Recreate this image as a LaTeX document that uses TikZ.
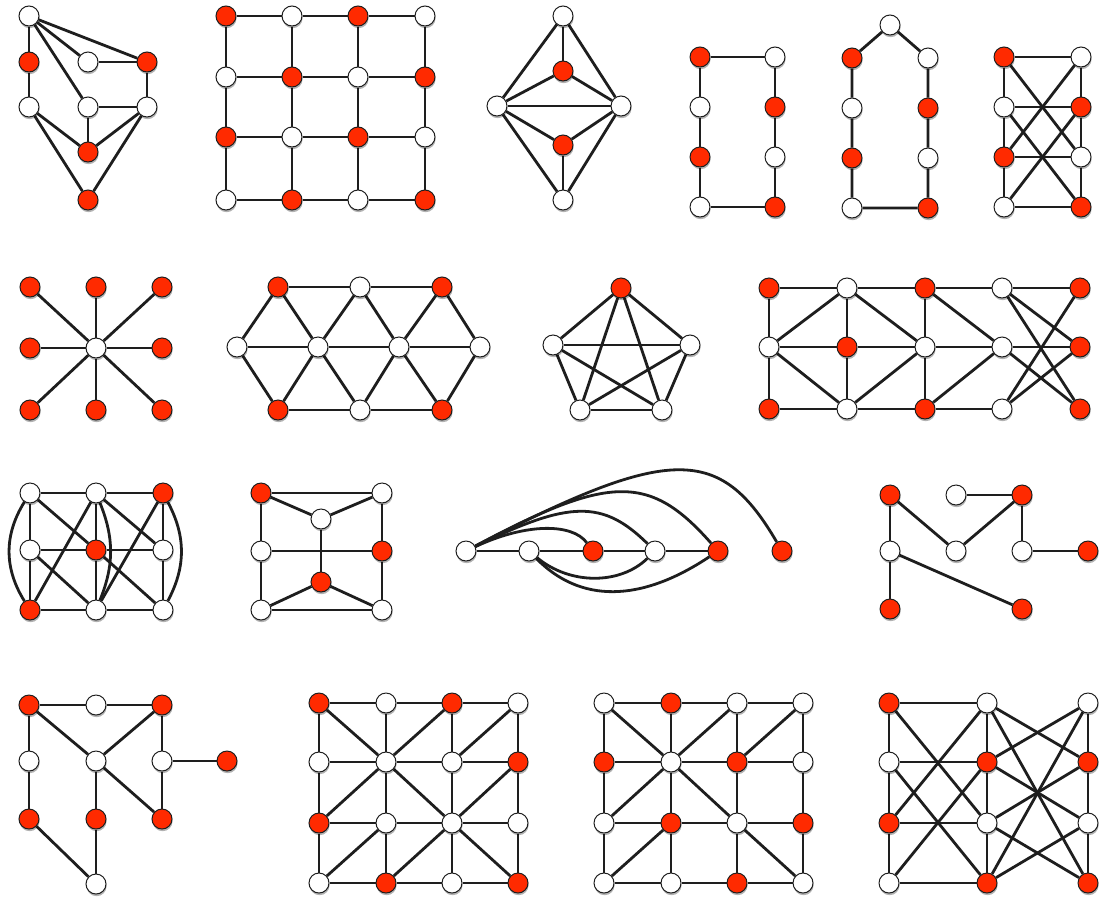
\documentclass[tikz,border=0pt]{standalone}
\usetikzlibrary{shadows, backgrounds}
\definecolor{Dark}{HTML}{1E1E1E}
\definecolor{Vred}{HTML}{FF2A00}
\tikzset{
    whitenode/.style={circle, draw=Dark, line width=1pt, fill=white, minimum size=20pt, inner sep=0pt,
        drop shadow={shadow xshift=0.6pt, shadow yshift=-2.2pt, opacity=0.3, fill=black}},
    rednode/.style={whitenode, fill=Vred},
    link/.style={line width=2.8pt, color=Dark},
}
\begin{document}
\begin{tikzpicture}[x=1pt, y=-1pt]
    \useasboundingbox (0,0) rectangle (1102,900);

    % Riga 1 - grafo irregolare
    \foreach \n/\x/\y/\s in {a/29/16/whitenode, b/29/62/rednode, c/88/62/whitenode, d/147/62/rednode,
        e/29/107/whitenode, f/88/107/whitenode, g/147/107/whitenode, h/88/152/rednode, i/88/200/rednode}
        \node[\s] (g1\n) at (\x,\y) {};
    \begin{scope}[on background layer]
        \foreach \u/\v in {a/b, a/c, a/d, a/f, b/e, c/d, d/g, f/g, f/h, e/h, e/i, g/h, g/i}
            \draw[link] (g1\u) -- (g1\v);
    \end{scope}

    % Griglia 4x4
    \foreach \n/\x/\y/\s in {a1/226/16/rednode, b1/292/16/whitenode, c1/358/16/rednode, d1/425/16/whitenode,
        a2/226/77/whitenode, b2/292/77/rednode, c2/358/77/whitenode, d2/425/77/rednode,
        a3/226/137/rednode, b3/292/137/whitenode, c3/358/137/rednode, d3/425/137/whitenode,
        a4/226/200/whitenode, b4/292/200/rednode, c4/358/200/whitenode, d4/425/200/rednode}
        \node[\s] (g2\n) at (\x,\y) {};
    \begin{scope}[on background layer]
        \foreach \r in {1,...,4} \draw[link] (g2a\r) -- (g2b\r) -- (g2c\r) -- (g2d\r);
        \foreach \c in {a,b,c,d} \draw[link] (g2\c1) -- (g2\c2) -- (g2\c3) -- (g2\c4);
    \end{scope}

    % Rombo
    \foreach \n/\x/\y/\s in {t/563/16/whitenode, u/563/71/rednode, l/497/106/whitenode, r/621/106/whitenode,
        v/563/145/rednode, b/563/200/whitenode}
        \node[\s] (g3\n) at (\x,\y) {};
    \begin{scope}[on background layer]
        \foreach \u/\v in {t/u, t/l, t/r, u/l, u/r, l/r, l/v, r/v, l/b, r/b, v/b}
            \draw[link] (g3\u) -- (g3\v);
    \end{scope}

    % Cicli
    \foreach \n/\x/\y/\s in {a1/700/57/rednode, a2/700/107/whitenode, a3/700/157/rednode, a4/700/207/whitenode,
        b1/775/57/whitenode, b2/775/107/rednode, b3/775/157/whitenode, b4/775/207/rednode}
        \node[\s] (g4\n) at (\x,\y) {};
    \begin{scope}[on background layer]
        \draw[link] (g4a1) -- (g4b1) -- (g4b2) -- (g4b3) -- (g4b4) -- (g4a4) -- (g4a3) -- (g4a2) -- (g4a1);
    \end{scope}

    \foreach \n/\x/\y/\s in {t/890/25/whitenode, a1/852/58/rednode, a2/852/108/whitenode, a3/852/158/rednode,
        a4/852/208/whitenode, b1/928/58/whitenode, b2/928/108/rednode, b3/928/158/whitenode, b4/928/208/rednode}
        \node[\s] (g5\n) at (\x,\y) {};
    \begin{scope}[on background layer]
        \draw[link] (g5t) -- (g5b1) -- (g5b2) -- (g5b3) -- (g5b4) -- (g5a4) -- (g5a3) -- (g5a2) -- (g5a1) -- (g5t);
    \end{scope}

    % Scala con incroci
    \foreach \n/\x/\y/\s in {a1/1004/57/rednode, a2/1004/107/whitenode, a3/1004/157/rednode, a4/1004/207/whitenode,
        b1/1081/57/whitenode, b2/1081/107/rednode, b3/1081/157/whitenode, b4/1081/207/rednode}
        \node[\s] (g6\n) at (\x,\y) {};
    \begin{scope}[on background layer]
        \foreach \r in {1,...,4} \draw[link] (g6a\r) -- (g6b\r);
        \foreach \c in {a,b} \draw[link] (g6\c1) -- (g6\c2) -- (g6\c3) -- (g6\c4);
        \foreach \u/\v in {a1/b3, a2/b4, a3/b1, a4/b2}
            \draw[link] (g6\u) -- (g6\v);
    \end{scope}

    % Riga 2 - stella
    \node[whitenode] (g7c) at (96,348) {};
    \foreach \n/\x/\y in {1/30/287, 2/96/287, 3/162/287, 4/30/348, 5/162/348, 6/30/410, 7/96/410, 8/162/410}
        \node[rednode] (g7n\n) at (\x,\y) {};
    \begin{scope}[on background layer]
        \foreach \n in {1,...,8} \draw[link] (g7c) -- (g7n\n);
    \end{scope}

    % Esagono triangolato
    \foreach \n/\x/\y/\s in {t1/278/287/rednode, t2/360/287/whitenode, t3/442/287/rednode,
        m1/237/347/whitenode, m2/318/347/whitenode, m3/399/347/whitenode, m4/480/347/whitenode,
        b1/278/410/rednode, b2/360/410/whitenode, b3/442/410/rednode}
        \node[\s] (g8\n) at (\x,\y) {};
    \begin{scope}[on background layer]
        \draw[link] (g8t1) -- (g8t2) -- (g8t3);
        \draw[link] (g8m1) -- (g8m2) -- (g8m3) -- (g8m4);
        \draw[link] (g8b1) -- (g8b2) -- (g8b3);
        \foreach \u/\v in {t1/m1, t1/m2, t2/m2, t2/m3, t3/m3, t3/m4, b1/m1, b1/m2, b2/m2, b2/m3, b3/m3, b3/m4}
            \draw[link] (g8\u) -- (g8\v);
    \end{scope}

    % K5
    \foreach \n/\x/\y/\s in {t/621/288/rednode, l/553/345/whitenode, r/690/345/whitenode,
        p/580/410/whitenode, q/662/410/whitenode}
        \node[\s] (g9\n) at (\x,\y) {};
    \begin{scope}[on background layer]
        \foreach \u/\v in {t/l, t/r, t/p, t/q, l/r, l/p, l/q, r/p, r/q, p/q}
            \draw[link] (g9\u) -- (g9\v);
    \end{scope}

    % Striscia 5x3
    \foreach \n/\x/\y/\s in {a1/769/288/rednode, b1/847/288/whitenode, c1/925/288/rednode, d1/1002/288/whitenode, e1/1080/288/rednode,
        a2/769/347/whitenode, b2/847/347/rednode, c2/925/347/whitenode, d2/1002/347/whitenode, e2/1080/347/rednode,
        a3/769/409/rednode, b3/847/409/whitenode, c3/925/409/rednode, d3/1002/409/whitenode, e3/1080/409/rednode}
        \node[\s] (g10\n) at (\x,\y) {};
    \begin{scope}[on background layer]
        \draw[link] (g10a1) -- (g10b1) -- (g10c1) -- (g10d1) -- (g10e1);
        \draw[link] (g10a2) -- (g10b2) -- (g10c2) -- (g10d2) -- (g10e2);
        \draw[link] (g10a3) -- (g10b3) -- (g10c3) -- (g10d3);
        \foreach \c in {a,b,c} \draw[link] (g10\c1) -- (g10\c2) -- (g10\c3);
        \foreach \u/\v in {b1/a2, b1/c2, a2/b3, b3/c2, c1/d2, c3/d2, d1/e2, d1/e3, e1/d3, d2/e3, d3/e2}
            \draw[link] (g10\u) -- (g10\v);
    \end{scope}

    % Riga 3 - griglia 3x3 con archi
    \foreach \n/\x/\y/\s in {a1/30/493/whitenode, b1/96/493/whitenode, c1/163/493/rednode,
        a2/30/550/whitenode, b2/96/550/rednode, c2/163/550/whitenode,
        a3/30/610/rednode, b3/96/610/whitenode, c3/163/610/whitenode}
        \node[\s] (g11\n) at (\x,\y) {};
    \begin{scope}[on background layer]
        \foreach \r in {1,2,3} \draw[link] (g11a\r) -- (g11b\r) -- (g11c\r);
        \foreach \c in {a,b,c} \draw[link] (g11\c1) -- (g11\c2) -- (g11\c3);
        \foreach \u/\v in {a1/b2, b1/a3, b1/c2, c1/b3, a2/b3, b2/c3}
            \draw[link] (g11\u) -- (g11\v);
        \draw[link] (g11a1) to[bend right=32] (g11a3);
        \draw[link] (g11c1) to[bend left=28] (g11c3);
        \draw[link] (g11b1) to[bend left=22] (g11b3);
    \end{scope}

    % Cubo schiacciato
    \foreach \n/\x/\y/\s in {a/261/493/rednode, b/382/493/whitenode, c/321/519/whitenode, d/261/551/whitenode,
        e/382/551/rednode, f/321/582/rednode, g/261/610/whitenode, h/382/610/whitenode}
        \node[\s] (g12\n) at (\x,\y) {};
    \begin{scope}[on background layer]
        \foreach \u/\v in {a/b, a/c, b/c, c/f, d/e, a/d, d/g, b/e, e/h, g/h, g/f, h/f}
            \draw[link] (g12\u) -- (g12\v);
    \end{scope}

    % Cammino con archi
    \foreach \n/\x/\s in {a/466/whitenode, b/529/whitenode, c/593/rednode, d/655/whitenode, e/718/rednode, f/782/rednode}
        \node[\s] (g13\n) at (\x,551) {};
    \begin{scope}[on background layer]
        \draw[link] (g13a) -- (g13b) -- (g13c) -- (g13d) -- (g13e);
        \draw[link] (g13a) .. controls (526,523) and (572,523) .. (g13c);
        \draw[link] (g13a) .. controls (570,500) and (603,500) .. (g13d);
        \draw[link] (g13a) .. controls (610,474) and (650,474) .. (g13e);
        \draw[link] (g13a) .. controls (670,445) and (720,445) .. (g13f);
        \draw[link] (g13b) .. controls (570,585) and (620,585) .. (g13d);
        \draw[link] (g13b) .. controls (580,603) and (640,603) .. (g13e);
    \end{scope}

    % Albero
    \foreach \n/\x/\y/\s in {a/890/495/rednode, b/956/495/whitenode, c/1022/495/rednode, d/890/551/whitenode,
        e/956/551/whitenode, f/1022/551/whitenode, g/1088/551/rednode, h/890/609/rednode, i/1022/609/rednode}
        \node[\s] (g14\n) at (\x,\y) {};
    \begin{scope}[on background layer]
        \foreach \u/\v in {a/d, a/e, b/c, c/e, c/f, f/g, d/h, d/i}
            \draw[link] (g14\u) -- (g14\v);
    \end{scope}

    % Riga 4 - grafo sparso
    \foreach \n/\x/\y/\s in {a/29/705/rednode, b/96/705/whitenode, c/162/705/rednode, d/29/761/whitenode,
        e/96/761/whitenode, f/162/761/whitenode, g/227/761/rednode, h/29/819/rednode, i/96/819/rednode,
        j/162/819/rednode, k/96/884/whitenode}
        \node[\s] (g15\n) at (\x,\y) {};
    \begin{scope}[on background layer]
        \foreach \u/\v in {a/b, b/c, a/d, a/e, c/e, c/f, f/g, d/h, e/i, e/j, f/j, h/k, i/k}
            \draw[link] (g15\u) -- (g15\v);
    \end{scope}

    % Griglie 4x4 con diagonali
    \foreach \n/\x/\y/\s in {a1/319/703/rednode, b1/386/703/whitenode, c1/452/703/rednode, d1/518/703/whitenode,
        a2/319/762/whitenode, b2/386/762/whitenode, c2/452/762/whitenode, d2/518/762/rednode,
        a3/319/823/rednode, b3/386/823/whitenode, c3/452/823/whitenode, d3/518/823/whitenode,
        a4/319/883/whitenode, b4/386/883/rednode, c4/452/883/whitenode, d4/518/883/rednode}
        \node[\s] (g16\n) at (\x,\y) {};
    \begin{scope}[on background layer]
        \foreach \r in {1,...,4} \draw[link] (g16a\r) -- (g16b\r) -- (g16c\r) -- (g16d\r);
        \foreach \c in {a,b,c,d} \draw[link] (g16\c1) -- (g16\c2) -- (g16\c3) -- (g16\c4);
        \foreach \u/\v in {a1/b2, c1/b2, d1/c2, b2/a3, b2/c3, d2/c3, b3/a4, c3/b4, c3/d4}
            \draw[link] (g16\u) -- (g16\v);
    \end{scope}

    \foreach \n/\x/\y/\s in {a1/604/703/whitenode, b1/671/703/rednode, c1/737/703/whitenode, d1/803/703/whitenode,
        a2/604/762/rednode, b2/671/762/whitenode, c2/737/762/rednode, d2/803/762/whitenode,
        a3/604/823/whitenode, b3/671/823/rednode, c3/737/823/whitenode, d3/803/823/rednode,
        a4/604/883/whitenode, b4/671/883/whitenode, c4/737/883/rednode, d4/803/883/whitenode}
        \node[\s] (g17\n) at (\x,\y) {};
    \begin{scope}[on background layer]
        \foreach \r in {1,...,4} \draw[link] (g17a\r) -- (g17b\r) -- (g17c\r) -- (g17d\r);
        \foreach \c in {a,b,c,d} \draw[link] (g17\c1) -- (g17\c2) -- (g17\c3) -- (g17\c4);
        \foreach \u/\v in {a1/b2, c1/b2, d1/c2, b2/a3, b2/c3, b3/a4, c3/d4}
            \draw[link] (g17\u) -- (g17\v);
    \end{scope}

    % Tre colonne incrociate
    \foreach \n/\x/\y/\s in {a1/889/703/rednode, a2/889/762/whitenode, a3/889/823/rednode, a4/889/883/whitenode,
        b1/987/703/whitenode, b2/987/762/rednode, b3/987/823/whitenode, b4/987/883/rednode,
        c1/1088/703/whitenode, c2/1088/762/rednode, c3/1088/823/whitenode, c4/1088/883/rednode}
        \node[\s] (g18\n) at (\x,\y) {};
    \begin{scope}[on background layer]
        \foreach \c in {a,b,c} \draw[link] (g18\c1) -- (g18\c2) -- (g18\c3) -- (g18\c4);
        \foreach \r in {1,...,4} \draw[link] (g18a\r) -- (g18b\r);
        \foreach \u/\v in {a1/b3, a2/b4, a3/b1, a4/b2, b1/c2, b1/c4, b2/c1, b2/c3, b3/c2, b3/c4, b4/c1, b4/c3}
            \draw[link] (g18\u) -- (g18\v);
    \end{scope}
\end{tikzpicture}
\end{document}
